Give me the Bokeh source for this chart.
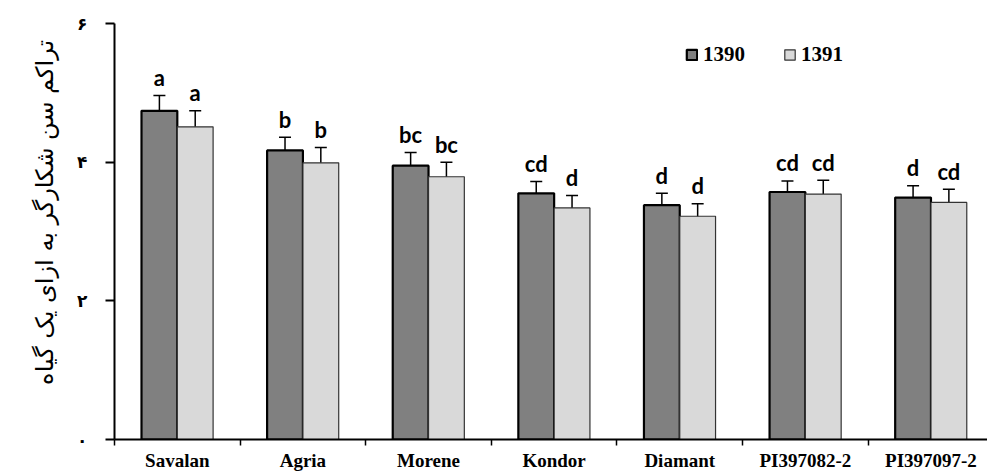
from bokeh.plotting import figure
from bokeh.models import (ColumnDataSource, Range1d, FixedTicker, Whisker, TeeHead,
                          Legend, LegendItem)
from bokeh.core.properties import value
from bokeh.embed import file_html
from bokeh.resources import INLINE

# ---- data ----
cultivars = ["Savalan", "Agria", "Morene", "Kondor", "Diamant", "PI397082-2", "PI397097-2"]
series_names = ["1390", "1391"]
y1390 = [4.74, 4.17, 3.95, 3.55, 3.38, 3.57, 3.49]
y1391 = [4.51, 3.99, 3.79, 3.34, 3.22, 3.54, 3.42]
err1390 = [0.22, 0.19, 0.19, 0.17, 0.17, 0.16, 0.17]
err1391 = [0.23, 0.22, 0.21, 0.18, 0.18, 0.20, 0.19]
letters1390 = ["a", "b", "bc", "cd", "d", "cd", "d"]
letters1391 = ["a", "b", "bc", "d", "d", "cd", "cd"]
y_ticks = [0, 2, 4, 6]
y_tick_labels = ["۰", "۲", "۴", "۶"]
y_title = "تراکم سن شکارگر به ازای یک گیاه"

n = len(cultivars)
centers = [i + 0.5 for i in range(n)]
bw = 0.285
letter_pad = 0.26   # gap between whisker cap and letter, in axis units

def make_source(offset, vals, errs, letters):
    xs = [c + offset for c in centers]
    up = [v + e for v, e in zip(vals, errs)]
    return ColumnDataSource(dict(
        x=xs, top=vals, upper=up,
        lower=[v - e for v, e in zip(vals, errs)],
        ly=[u + letter_pad for u in up],
        letter=letters,
    ))

src1 = make_source(-bw / 2, y1390, err1390, letters1390)
src2 = make_source(bw / 2, y1391, err1391, letters1391)

p = figure(width=987, height=474, x_range=Range1d(0, 6.95), y_range=Range1d(0, 6),
           output_backend="svg", toolbar_location=None,
           min_border_left=114, min_border_right=0, min_border_top=23, min_border_bottom=35)
p.outline_line_color = None
p.grid.visible = False
p.background_fill_color = "white"

r1 = p.vbar(x="x", top="top", bottom=0, width=bw, source=src1,
            fill_color="#808080", line_color="black", line_width=2.2)
r2 = p.vbar(x="x", top="top", bottom=0, width=bw, source=src2,
            fill_color="#d9d9d9", line_color="#333333", line_width=1.2)

for src in (src1, src2):
    w = Whisker(source=src, base="x", upper="upper", lower="lower",
                line_color="black", line_width=1.5,
                upper_head=TeeHead(size=12, line_color="black", line_width=1.5),
                lower_head=TeeHead(size=12, line_color="black", line_width=1.5))
    p.add_layout(w)
    p.text(x="x", y="ly", text="letter", source=src,
           text_align="center", text_baseline="alphabetic",
           text_font=value("Lato"), text_font_style="bold", text_font_size="22px",
           text_color="black")

# x axis: labels at centres, separator ticks at category boundaries
xa = p.xaxis[0]
xa.ticker = FixedTicker(ticks=centers, minor_ticks=list(range(0, n + 1)))
xa.major_label_overrides = {c: name for c, name in zip(centers, cultivars)}
xa.major_tick_line_color = None
xa.major_tick_out = 0
xa.major_tick_in = 0
xa.minor_tick_out = 6
xa.minor_tick_in = 0
xa.minor_tick_line_color = "black"
xa.minor_tick_line_width = 1.5
xa.axis_line_color = "black"
xa.axis_line_width = 2
xa.major_label_standoff = 4
xa.major_label_text_font = "Liberation Serif"
xa.major_label_text_font_style = "bold"
xa.major_label_text_font_size = "19px"
xa.major_label_text_color = "black"

ya = p.yaxis[0]
ya.ticker = FixedTicker(ticks=y_ticks, minor_ticks=[])
ya.major_label_overrides = {t: lab for t, lab in zip(y_ticks, y_tick_labels)}
ya.major_tick_out = 9
ya.major_tick_in = 0
ya.major_tick_line_color = "black"
ya.major_tick_line_width = 2
ya.minor_tick_line_color = None
ya.axis_line_color = "black"
ya.axis_line_width = 2
ya.major_label_standoff = 18
ya.major_label_text_font = "DejaVu Sans"
ya.major_label_text_font_style = "bold"
ya.major_label_text_font_size = "17px"
ya.major_label_text_color = "black"
# leading no-break spaces shift the rotated title up, as in the reference
ya.axis_label = "\u00a0" * 5 + y_title
ya.axis_label_text_font = "DejaVu Sans"
ya.axis_label_text_font_style = "normal"
ya.axis_label_text_font_size = "24px"
ya.axis_label_text_color = "black"
ya.axis_label_standoff = 15

legend = Legend(items=[LegendItem(label=series_names[0], renderers=[r1]),
                       LegendItem(label=series_names[1], renderers=[r2])],
                location=(571, 372), orientation="horizontal",
                glyph_width=13, glyph_height=13, label_standoff=5, spacing=38,
                padding=0, margin=0, border_line_color=None, background_fill_alpha=0,
                label_text_font="Liberation Serif", label_text_font_style="bold",
                label_text_font_size="21px", label_text_color="black")
p.add_layout(legend)

open("out.html", "w").write(file_html(p, INLINE))
